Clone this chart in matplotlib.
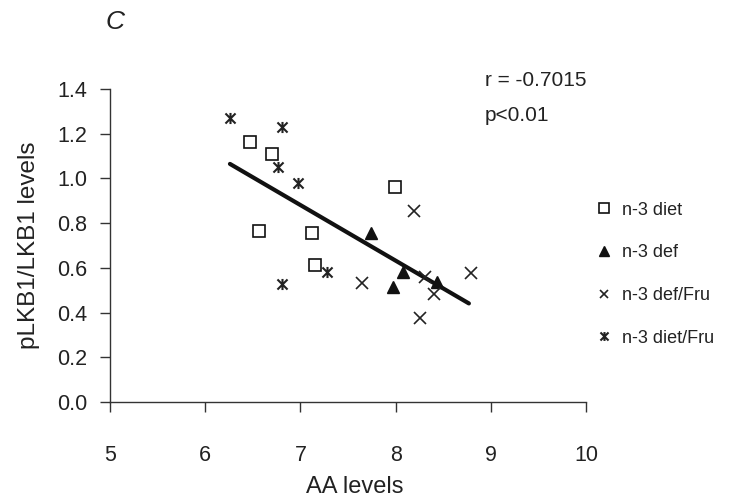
import matplotlib.pyplot as plt
import numpy as np
from matplotlib.path import Path

plt.rcParams['font.family'] = ['Liberation Sans', 'DejaVu Sans']

# data
diet_x = [6.47, 6.70, 7.99, 6.57, 7.12, 7.15]
diet_y = [1.164, 1.109, 0.96, 0.766, 0.754, 0.613]
def_x = [7.74, 8.08, 8.44, 7.97]
def_y = [0.754, 0.583, 0.538, 0.516]
deffru_x = [8.19, 8.31, 7.65, 8.40, 8.26, 8.79]
deffru_y = [0.856, 0.56, 0.534, 0.483, 0.374, 0.576]
dietfru_x = [6.26, 6.81, 6.76, 6.97, 7.28, 6.81]
dietfru_y = [1.27, 1.23, 1.05, 0.98, 0.58, 0.528]
fit_x = [6.26, 8.77]
fit_y = [1.065, 0.441]

xticks = [5, 6, 7, 8, 9, 10]
yticks = [0.0, 0.2, 0.4, 0.6, 0.8, 1.0, 1.2, 1.4]

# x with a vertical bar (excel "star" marker)
star = Path([(-1, -1), (1, 1), (-1, 1), (1, -1), (0, -1.1), (0, 1.1)],
            [Path.MOVETO, Path.LINETO, Path.MOVETO, Path.LINETO, Path.MOVETO, Path.LINETO])

fig = plt.figure(figsize=(7.3, 4.97), dpi=100)
ax = fig.add_axes([0.1507, 0.1911, 0.652, 0.6298])

ax.plot(fit_x, fit_y, color='#111111', lw=3, solid_capstyle='round', zorder=1)
ax.plot(diet_x, diet_y, ls='none', marker='s', ms=8.5, mfc='white', mec='#111111', mew=1.2, label='n-3 diet', zorder=3)
ax.plot(def_x, def_y, ls='none', marker='^', ms=9, mfc='#111111', mec='#111111', label='n-3 def', zorder=3)
ax.plot(deffru_x, deffru_y, ls='none', marker='x', ms=8, mec='#222222', mew=1.2, label='n-3 def/Fru', zorder=3)
ax.plot(dietfru_x, dietfru_y, ls='none', marker=star, ms=8, mec='#222222', mew=1.5, label='n-3 diet/Fru', zorder=3)

ax.set_xlim(5, 10)
ax.set_ylim(0, 1.4)
ax.set_xticks(xticks)
ax.set_yticks(yticks)
ax.set_yticklabels(['%.1f' % v for v in yticks])
ax.spines['top'].set_visible(False)
ax.spines['right'].set_visible(False)
for s in ['left', 'bottom']:
    ax.spines[s].set_linewidth(1.0)
    ax.spines[s].set_color('#333333')
ax.tick_params(axis='y', length=7, width=1, pad=9.5, labelsize=15.5, colors='#333333', labelcolor='#222222')
ax.tick_params(axis='x', length=7, width=1, pad=24, labelsize=15.5, colors='#333333', labelcolor='#222222')

ax.set_xlabel('AA levels', fontsize=17, color='#222222', labelpad=8)
ax.xaxis.set_label_coords(0.515, -0.235)
ax.set_ylabel('pLKB1/LKB1 levels', fontsize=17.5, color='#222222', labelpad=12)

fig.text(0.144, 0.956, 'C', fontsize=19, style='italic', color='#222222', ha='left', va='center')
fig.text(0.664, 0.839, 'r = -0.7015', fontsize=15, color='#222222', ha='left', va='center')
fig.text(0.664, 0.767, 'p<0.01', fontsize=15, color='#222222', ha='left', va='center')

leg = ax.legend(loc='upper left', bbox_to_anchor=(0.793, 0.627), bbox_transform=fig.transFigure,
                frameon=False, fontsize=13, labelspacing=1.42, handlelength=1.0, handletextpad=0.5,
                markerscale=0.8)
for t in leg.get_texts():
    t.set_color('#222222')

fig.savefig('out.png', dpi=100)
